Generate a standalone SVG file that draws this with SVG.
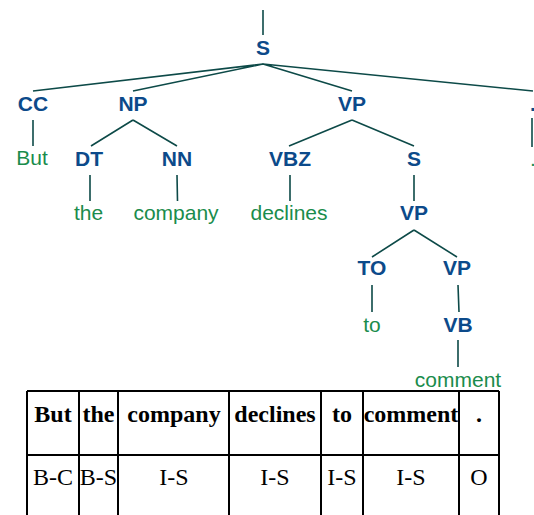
<svg xmlns="http://www.w3.org/2000/svg" width="534" height="515" viewBox="0 0 534 515">
<style>
.lab{font-family:"Liberation Sans",Arial,sans-serif;font-weight:bold;font-size:21px;fill:#0c4a8a;text-anchor:middle}
.wd{font-family:"Liberation Sans",Arial,sans-serif;font-size:21px;fill:#1a8c4c;text-anchor:middle}
.e{stroke:#0d4a48;stroke-width:1.6;fill:none}
.tb{stroke:#000;stroke-width:2;fill:none}
.th{font-family:"Liberation Serif","Times New Roman",serif;font-weight:bold;font-size:24px;fill:#000;text-anchor:middle}
.td{font-family:"Liberation Serif","Times New Roman",serif;font-size:24px;fill:#000;text-anchor:middle}
</style>
<rect width="534" height="515" fill="#fff"/>
<g id="connectors">
<path class="e" d="M263 10V35"/>
<path class="e" d="M263 64L33 91M263 64L133 91M263 64L352 91M263 64L533 91"/>
<path class="e" d="M33 120V146"/>
<path class="e" d="M133 120L91 146M133 120L177 146"/>
<path class="e" d="M352 120L289 146M352 120L414 146"/>
<path class="e" d="M532 118V147"/>
<path class="e" d="M90 175V201M177 175L177.5 201M290 175V201M414 175V201"/>
<path class="e" d="M414 230L372 257M414 230L457 257"/>
<path class="e" d="M372 285V312M458 285L459 312M458 340V367"/>
</g>
<g id="n_S"><text class="lab" x="263" y="55">S</text></g>
<g id="n_CC"><text class="lab" x="33" y="111">CC</text></g>
<g id="n_NP"><text class="lab" x="133" y="111">NP</text></g>
<g id="n_VP"><text class="lab" x="352" y="111">VP</text></g>
<g id="n_PUNCT"><text class="lab" x="533" y="111">.</text></g>
<g id="w_But"><text class="wd" x="32" y="165">But</text></g>
<g id="n_DT"><text class="lab" x="89" y="166">DT</text></g>
<g id="n_NN"><text class="lab" x="177" y="166">NN</text></g>
<g id="n_VBZ"><text class="lab" x="290" y="166">VBZ</text></g>
<g id="n_S2"><text class="lab" x="414" y="166">S</text></g>
<g id="w_dot"><text class="wd" x="533" y="166">.</text></g>
<g id="w_the"><text class="wd" x="88.5" y="220">the</text></g>
<g id="w_company"><text class="wd" x="176" y="220">company</text></g>
<g id="w_declines"><text class="wd" x="289" y="220">declines</text></g>
<g id="n_VP2"><text class="lab" x="414" y="220">VP</text></g>
<g id="n_TO"><text class="lab" x="372" y="275">TO</text></g>
<g id="n_VP3"><text class="lab" x="457" y="275">VP</text></g>
<g id="w_to"><text class="wd" x="372" y="332">to</text></g>
<g id="n_VB"><text class="lab" x="458" y="332">VB</text></g>
<g id="w_comment"><text class="wd" x="458" y="387">comment</text></g>
<g id="table">
<path class="tb" d="M27 391H499M27 455H499M27 391V515M79 391V515M118 391V515M229 391V515M321 391V515M363 391V515M459 391V515M499 391V515"/>
<text class="th" x="53" y="422">But</text>
<text class="th" x="98.5" y="422">the</text>
<text class="th" x="174" y="422">company</text>
<text class="th" x="275" y="422">declines</text>
<text class="th" x="342" y="422">to</text>
<text class="th" x="411" y="422">comment</text>
<text class="th" x="479" y="422">.</text>
<text class="td" x="53" y="485">B-C</text>
<text class="td" x="98.5" y="485">B-S</text>
<text class="td" x="174" y="485">I-S</text>
<text class="td" x="275" y="485">I-S</text>
<text class="td" x="342" y="485">I-S</text>
<text class="td" x="411" y="485">I-S</text>
<text class="td" x="479" y="485">O</text>
</g>
</svg>
